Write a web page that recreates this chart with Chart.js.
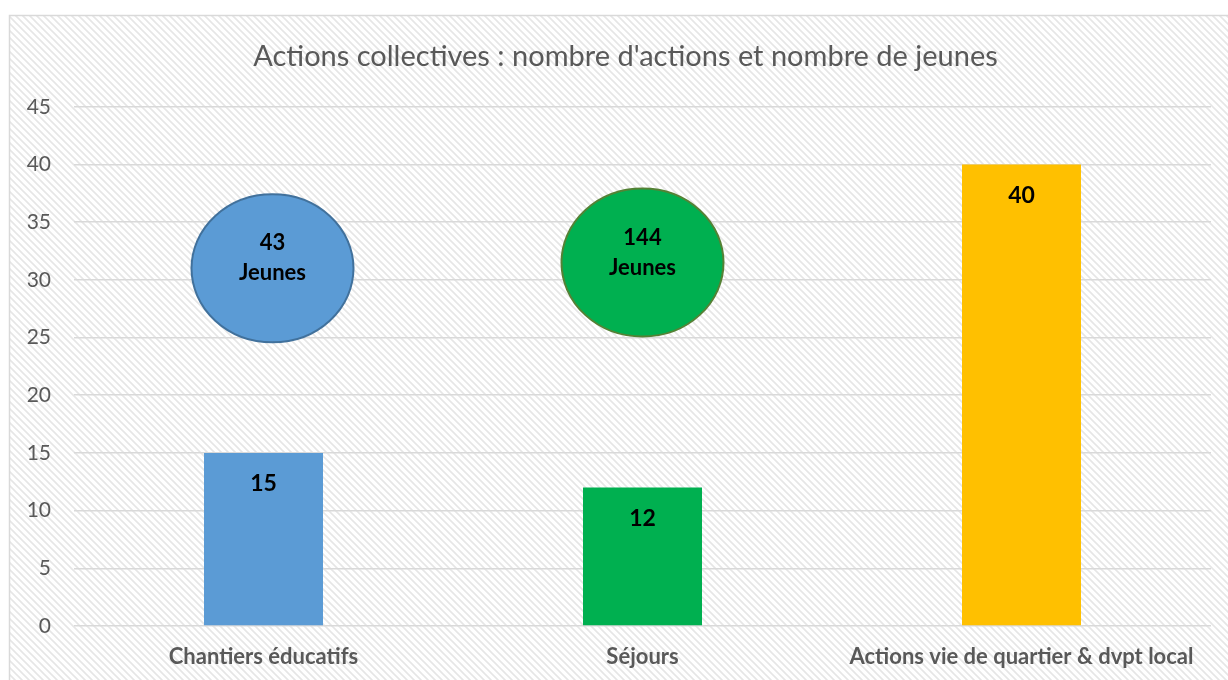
<!DOCTYPE html>
<html>
<head>
<meta charset="utf-8">
<script src="https://cdn.jsdelivr.net/npm/chart.js@4"></script>
<style>
    html, body { margin: 0; padding: 0; background: #ffffff; }
    #wrap { width: 1228px; height: 680px; }
</style>
</head>
<body>
<div id="wrap"><canvas id="chart" width="1228" height="680"></canvas></div>
<script>
const categories = ['Chantiers éducatifs', 'Séjours', 'Actions vie de quartier & dvpt local'];
const actions = [15, 12, 40];
const barColors = ['#5b9bd5', '#00b050', '#ffc000'];
const jeunes = [43, 144, null];
const jeunesLevel = [31, 31.5, null];
const jeunesFill = ['#5b9bd5', '#00b050'];
const jeunesStroke = ['#41719c', '#548235'];
const yTicks = [0, 5, 10, 15, 20, 25, 30, 35, 40, 45];

const textGray = '#595959';
const gridGray = '#d9d9d9';

function makeHatch(ctx) {
    const tile = document.createElement('canvas');
    tile.width = 7;
    tile.height = 7;
    const t = tile.getContext('2d');
    t.fillStyle = '#ffffff';
    t.fillRect(0, 0, 7, 7);
    t.strokeStyle = '#e6e6e6';
    t.lineWidth = 1.6;
    t.beginPath();
    t.moveTo(-1, -1); t.lineTo(8, 8);
    t.moveTo(-8, -1); t.lineTo(1, 8);
    t.moveTo(6, -1); t.lineTo(15, 8);
    t.stroke();
    return ctx.createPattern(tile, 'repeat');
}

const backgroundPlugin = {
    id: 'hatchBackground',
    afterLayout(chart) {
        // le titre est centré un peu à droite dans l'original
        if (chart.titleBlock) chart.titleBlock.left += 30;
    },
    beforeDraw(chart) {
        const ctx = chart.ctx;
        ctx.save();
        ctx.fillStyle = makeHatch(ctx);
        ctx.fillRect(10, 16, chart.width - 10, chart.height - 16);
        ctx.strokeStyle = gridGray;
        ctx.lineWidth = 1.5;
        ctx.strokeRect(9.5, 15.5, chart.width + 10, chart.height + 10);
        ctx.restore();
    }
};

const labelsPlugin = {
    id: 'valueLabels',
    afterDatasetsDraw(chart) {
        const ctx = chart.ctx;
        const xScale = chart.scales.x;
        const yScale = chart.scales.y;
        const meta = chart.getDatasetMeta(0);
        ctx.save();
        ctx.textAlign = 'center';
        ctx.textBaseline = 'middle';
        ctx.fillStyle = '#000000';
        ctx.font = 'bold 23px Lato';
        meta.data.forEach((bar, i) => {
            ctx.fillText(String(actions[i]), bar.x, bar.y + 31);
        });

        // bulles "Jeunes"
        const offsets = [9, 0];
        jeunes.forEach((n, i) => {
            if (n === null) return;
            const cx = xScale.getPixelForValue(i) + offsets[i];
            const cy = yScale.getPixelForValue(jeunesLevel[i]);
            ctx.beginPath();
            ctx.ellipse(cx, cy, 81, 74, 0, 0, Math.PI * 2);
            ctx.fillStyle = jeunesFill[i];
            ctx.fill();
            ctx.lineWidth = 2;
            ctx.strokeStyle = jeunesStroke[i];
            ctx.stroke();
            ctx.fillStyle = '#000000';
            ctx.font = 'bold 22px Lato';
            ctx.fillText(String(n), cx, cy - 25);
            ctx.fillText('Jeunes', cx, cy + 5);
        });
        ctx.restore();
    }
};

new Chart(document.getElementById('chart').getContext('2d'), {
    type: 'bar',
    data: {
        labels: categories,
        datasets: [{
            label: "Nombre d'actions",
            data: actions,
            backgroundColor: barColors,
            borderWidth: 0,
            barPercentage: 0.314,
            categoryPercentage: 1
        }]
    },
    options: {
        responsive: false,
        animation: false,
        layout: {
            padding: { left: 10, right: 17, top: 0, bottom: 0 }
        },
        scales: {
            y: {
                min: 0,
                max: 45,
                afterFit(scale) { scale.width = 64; },
                afterBuildTicks(scale) { scale.ticks = yTicks.map(v => ({ value: v })); },
                ticks: {
                    stepSize: 5,
                    padding: 23,
                    color: textGray,
                    font: { family: 'Lato', size: 21 }
                },
                grid: {
                    color: gridGray,
                    lineWidth: 1.5,
                    drawTicks: false
                },
                border: { display: false }
            },
            x: {
                afterFit(scale) { scale.height = 54; },
                ticks: {
                    padding: 18,
                    color: textGray,
                    font: { family: 'Lato', size: 22, weight: 'bold' }
                },
                grid: { display: false, drawTicks: false },
                border: { display: false }
            }
        },
        plugins: {
            legend: { display: false },
            tooltip: { enabled: false },
            title: {
                display: true,
                text: "Actions collectives : nombre d'actions et nombre de jeunes",
                color: textGray,
                font: { family: 'Lato', size: 29, weight: 'normal' },
                padding: { top: 39, bottom: 33 }
            }
        }
    },
    plugins: [backgroundPlugin, labelsPlugin]
});
</script>
</body>
</html>
